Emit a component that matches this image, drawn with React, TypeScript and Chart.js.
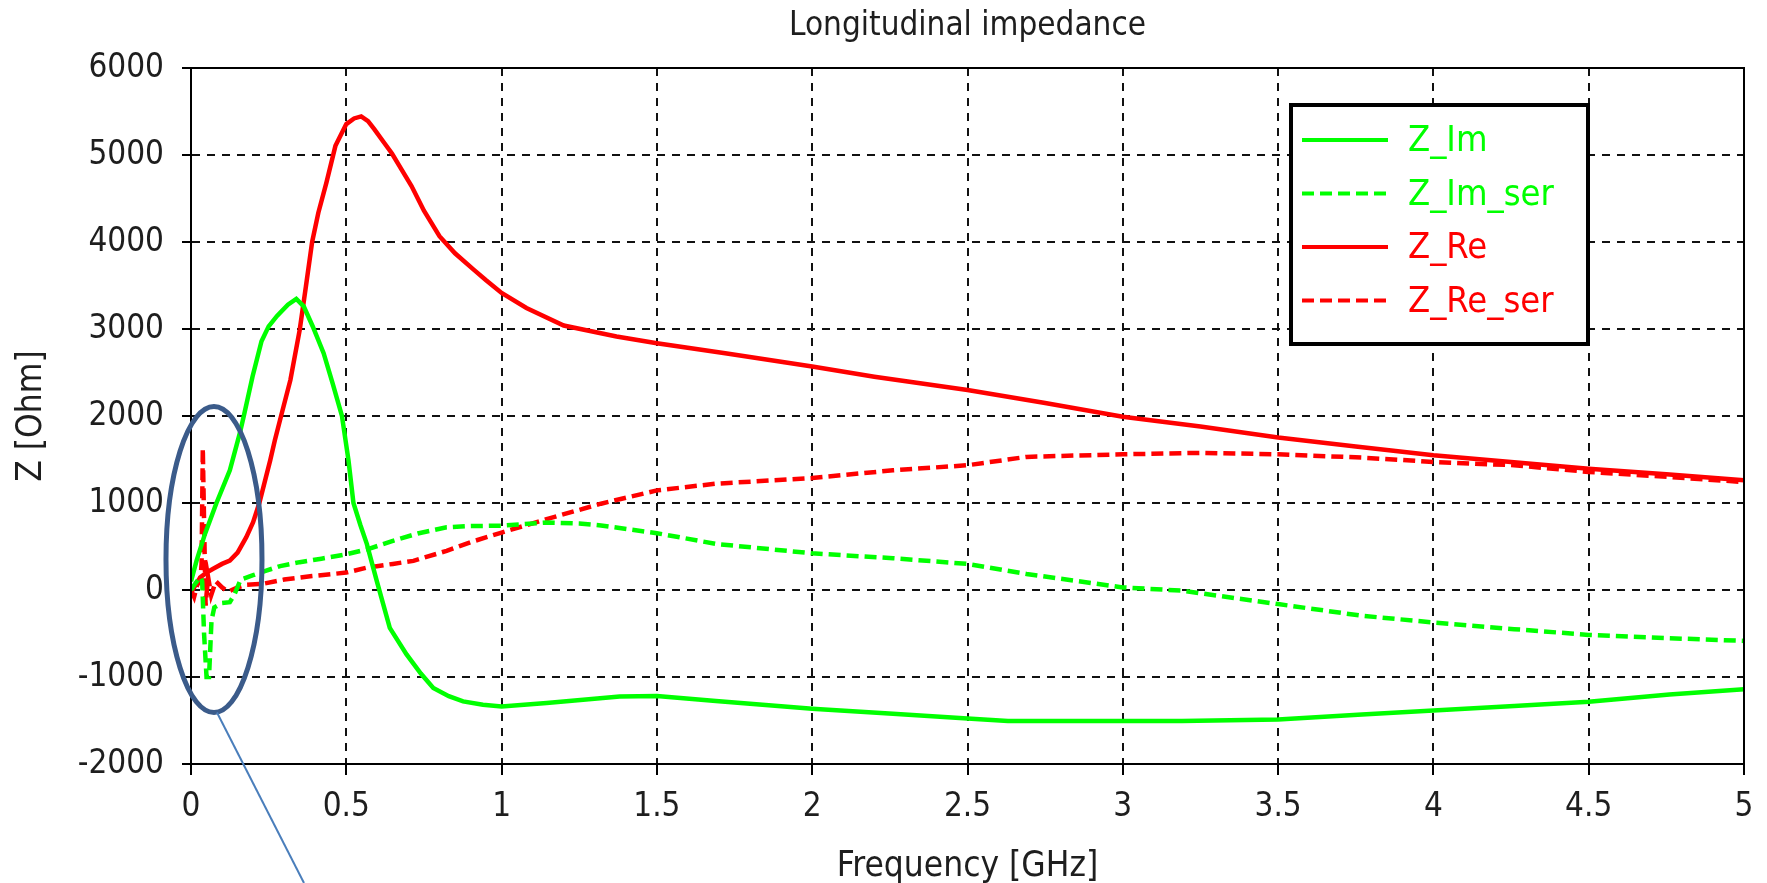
import React, { useEffect, useRef } from 'react';
import { Chart, registerables } from 'chart.js';

Chart.register(...registerables);

// ---------- text ----------
const TITLE = 'Longitudinal impedance';
const X_LABEL = 'Frequency [GHz]';
const Y_LABEL = 'Z [Ohm]';
const SERIES_NAMES = ['Z_Im', 'Z_Im_ser', 'Z_Re', 'Z_Re_ser'];

// ---------- axes ----------
const X_MIN = 0;
const X_MAX = 5;
const X_STEP = 0.5;
const Y_MIN = -2000;
const Y_MAX = 6000;
const Y_STEP = 1000;

// ---------- data (frequency in GHz, impedance in Ohm) ----------
const ZIM_F = [0, 0.018, 0.045, 0.082, 0.125, 0.157, 0.17, 0.198, 0.227, 0.25, 0.277, 0.312, 0.339, 0.363, 0.392, 0.427, 0.456, 0.486, 0.507, 0.523, 0.545, 0.566, 0.598, 0.64, 0.694, 0.74, 0.78, 0.83, 0.876, 0.94, 1.0, 1.145, 1.38, 1.5, 1.69, 2.0, 2.26, 2.5, 2.63, 3.0, 3.19, 3.5, 3.77, 4.0, 4.26, 4.5, 4.76, 5.0];
const ZIM_V = [100, 338, 645, 1000, 1376, 1800, 2000, 2452, 2860, 3030, 3150, 3279, 3345, 3260, 3029, 2722, 2376, 2000, 1491, 1000, 750, 530, 104, -435, -740, -960, -1127, -1220, -1280, -1320, -1338, -1300, -1223, -1219, -1277, -1365, -1423, -1476, -1507, -1507, -1507, -1488, -1430, -1384, -1334, -1285, -1200, -1142];

const ZIMSER_F = [0, 0.015, 0.03, 0.036, 0.042, 0.05, 0.058, 0.066, 0.075, 0.1, 0.125, 0.14, 0.16, 0.2, 0.24, 0.287, 0.35, 0.42, 0.5, 0.57, 0.65, 0.73, 0.823, 0.9, 1.0, 1.145, 1.25, 1.32, 1.5, 1.69, 2.0, 2.26, 2.5, 2.69, 3.0, 3.19, 3.5, 3.77, 4.0, 4.26, 4.5, 4.76, 5.0];
const ZIMSER_V = [0, 80, 150, 100, -500, -1000, -1000, -350, -200, -150, -140, -50, 120, 170, 220, 275, 320, 360, 410, 470, 565, 650, 720, 735, 740, 775, 765, 742, 653, 530, 422, 365, 300, 184, 30, -8, -162, -296, -373, -450, -516, -554, -585];

const ZRE_F = [0, 0.015, 0.03, 0.05, 0.07, 0.1, 0.125, 0.15, 0.178, 0.2, 0.22, 0.24, 0.255, 0.27, 0.29, 0.32, 0.35, 0.37, 0.39, 0.41, 0.436, 0.465, 0.5, 0.525, 0.548, 0.57, 0.59, 0.62, 0.647, 0.68, 0.71, 0.75, 0.8, 0.85, 0.91, 0.95, 1.0, 1.08, 1.2, 1.37, 1.5, 1.72, 2.0, 2.2, 2.5, 2.75, 3.0, 3.25, 3.5, 3.75, 4.0, 4.25, 4.5, 4.75, 5.0];
const ZRE_V = [-30, 60, 145, 200, 242, 300, 338, 430, 607, 780, 1000, 1280, 1490, 1720, 2000, 2414, 2990, 3490, 4000, 4337, 4683, 5105, 5355, 5420, 5444, 5390, 5298, 5150, 5017, 4820, 4644, 4360, 4067, 3870, 3683, 3560, 3414, 3241, 3040, 2914, 2837, 2722, 2568, 2452, 2299, 2150, 1991, 1880, 1753, 1650, 1549, 1470, 1395, 1330, 1260];

const ZRESER_F = [0, 0.01, 0.02, 0.03, 0.034, 0.038, 0.043, 0.047, 0.055, 0.065, 0.08, 0.1, 0.12, 0.15, 0.18, 0.23, 0.3, 0.39, 0.5, 0.566, 0.65, 0.716, 0.823, 0.9, 1.0, 1.145, 1.32, 1.5, 1.69, 2.0, 2.26, 2.5, 2.69, 3.0, 3.25, 3.5, 3.77, 4.0, 4.26, 4.5, 4.76, 5.0];
const ZRESER_V = [0, -80, 60, 100, 300, 1630, 600, -180, 150, -60, 100, 30, -20, 30, 60, 70, 120, 160, 200, 257, 300, 335, 450, 550, 660, 815, 992, 1145, 1222, 1287, 1376, 1434, 1530, 1560, 1576, 1560, 1522, 1472, 1434, 1357, 1299, 1241];

// ---------- annotation (in data units) ----------
const MARK_CENTER_F = 0.074;
const MARK_CENTER_Z = 350;

// ---------- styles ----------
const FONT = '"DejaVu Sans Condensed", "DejaVu Sans", sans-serif';
const GREEN = '#00ff00';
const RED = '#ff0000';
const TEXT = '#1e1e1e';
const DASH = [12, 6];

const pts = (f: number[], v: number[]) => f.map((x, i) => ({ x, y: v[i] }));

const SERIES = [
  { name: SERIES_NAMES[0], f: ZIM_F, v: ZIM_V, color: GREEN, dash: [] as number[] },
  { name: SERIES_NAMES[1], f: ZIMSER_F, v: ZIMSER_V, color: GREEN, dash: DASH },
  { name: SERIES_NAMES[2], f: ZRE_F, v: ZRE_V, color: RED, dash: [] as number[] },
  { name: SERIES_NAMES[3], f: ZRESER_F, v: ZRESER_V, color: RED, dash: DASH },
];

const decorPlugin = {
  id: 'decor',
  afterDraw(chart: any) {
    const { ctx, chartArea: a, scales } = chart;
    ctx.save();
    // frame
    ctx.strokeStyle = '#000';
    ctx.lineWidth = 2;
    ctx.setLineDash([]);
    ctx.strokeRect(a.left, a.top, a.right - a.left, a.bottom - a.top);

    // title
    ctx.fillStyle = TEXT;
    ctx.font = `33px ${FONT}`;
    ctx.textAlign = 'center';
    ctx.textBaseline = 'middle';
    ctx.fillText(TITLE, (a.left + a.right) / 2, 26);
    // x label
    ctx.font = `35px ${FONT}`;
    ctx.fillText(X_LABEL, (a.left + a.right) / 2, 867);
    // y label
    ctx.save();
    ctx.translate(32, (a.top + a.bottom) / 2);
    ctx.rotate(-Math.PI / 2);
    ctx.fillText(Y_LABEL, 0, 0);
    ctx.restore();

    // legend
    const lx = 1291, ly = 105, lw = 297, lh = 239;
    ctx.fillStyle = '#fff';
    ctx.fillRect(lx, ly, lw, lh);
    ctx.strokeStyle = '#000';
    ctx.lineWidth = 4;
    ctx.strokeRect(lx, ly, lw, lh);
    ctx.font = `36px ${FONT}`;
    ctx.textAlign = 'left';
    SERIES.forEach((s, i) => {
      const y = ly + 35 + i * 53.5;
      ctx.strokeStyle = s.color;
      ctx.lineWidth = 4;
      ctx.setLineDash(s.dash);
      ctx.beginPath();
      ctx.moveTo(lx + 11, y);
      ctx.lineTo(lx + 97, y);
      ctx.stroke();
      ctx.setLineDash([]);
      ctx.fillStyle = s.color;
      ctx.fillText(s.name, lx + 117, y + 2);
    });

    // annotation ellipse + pointer line
    const cx = scales.x.getPixelForValue(MARK_CENTER_F);
    const cy = scales.y.getPixelForValue(MARK_CENTER_Z);
    const rx = 48, ry = 153;
    ctx.strokeStyle = '#3b5b8a';
    ctx.lineWidth = 5;
    ctx.beginPath();
    ctx.ellipse(cx, cy, rx, ry, 0, 0, Math.PI * 2);
    ctx.stroke();
    ctx.strokeStyle = '#4a7ebb';
    ctx.lineWidth = 2;
    ctx.beginPath();
    ctx.moveTo(cx + 3, cy + ry);
    ctx.lineTo(cx + 90, chart.height);
    ctx.stroke();
    ctx.restore();
  },
};

export default function App() {
  const ref = useRef<HTMLCanvasElement | null>(null);
  useEffect(() => {
    document.body.style.margin = '0';
    document.body.style.overflow = 'hidden';
    const canvas = ref.current;
    if (!canvas) return;
    const chart = new Chart(canvas, {
      type: 'line',
      data: {
        datasets: SERIES.map((s) => ({
          label: s.name,
          data: pts(s.f, s.v),
          borderColor: s.color,
          backgroundColor: s.color,
          borderWidth: 4.5,
          borderDash: s.dash,
          pointRadius: 0,
          tension: 0,
          fill: false,
        })),
      },
      options: {
        animation: false,
        responsive: true,
        maintainAspectRatio: false,
        layout: { padding: { top: 68, right: 23, left: 0, bottom: 0 } },
        plugins: {
          legend: { display: false },
          title: { display: false },
          tooltip: { enabled: false },
        },
        scales: {
          x: {
            type: 'linear',
            min: X_MIN,
            max: X_MAX,
            afterFit: (s: any) => { s.height = 119; },
            ticks: {
              stepSize: X_STEP,
              color: TEXT,
              font: { family: FONT, size: 33 },
              padding: 13,
              maxRotation: 0,
              callback: (v: any) => String(Math.round(Number(v) * 10) / 10),
            },
            grid: { color: '#111', lineWidth: 2, tickLength: 11, tickColor: '#000', tickWidth: 2 },
            border: { display: true, color: '#000', width: 2, dash: [8, 7] },
          },
          y: {
            type: 'linear',
            min: Y_MIN,
            max: Y_MAX,
            afterFit: (s: any) => { s.width = 191; },
            ticks: {
              stepSize: Y_STEP,
              color: TEXT,
              font: { family: FONT, size: 33 },
              padding: 18,
              callback: (v: any) => String(v),
            },
            grid: { color: '#111', lineWidth: 2, tickLength: 9, tickColor: '#000', tickWidth: 2 },
            border: { display: true, color: '#000', width: 2, dash: [8, 7] },
          },
        },
      } as any,
      plugins: [decorPlugin],
    });
    return () => chart.destroy();
  }, []);
  return (
    <div style={{ width: 1767, height: 883, position: 'relative' }}>
      <canvas ref={ref} />
    </div>
  );
}
